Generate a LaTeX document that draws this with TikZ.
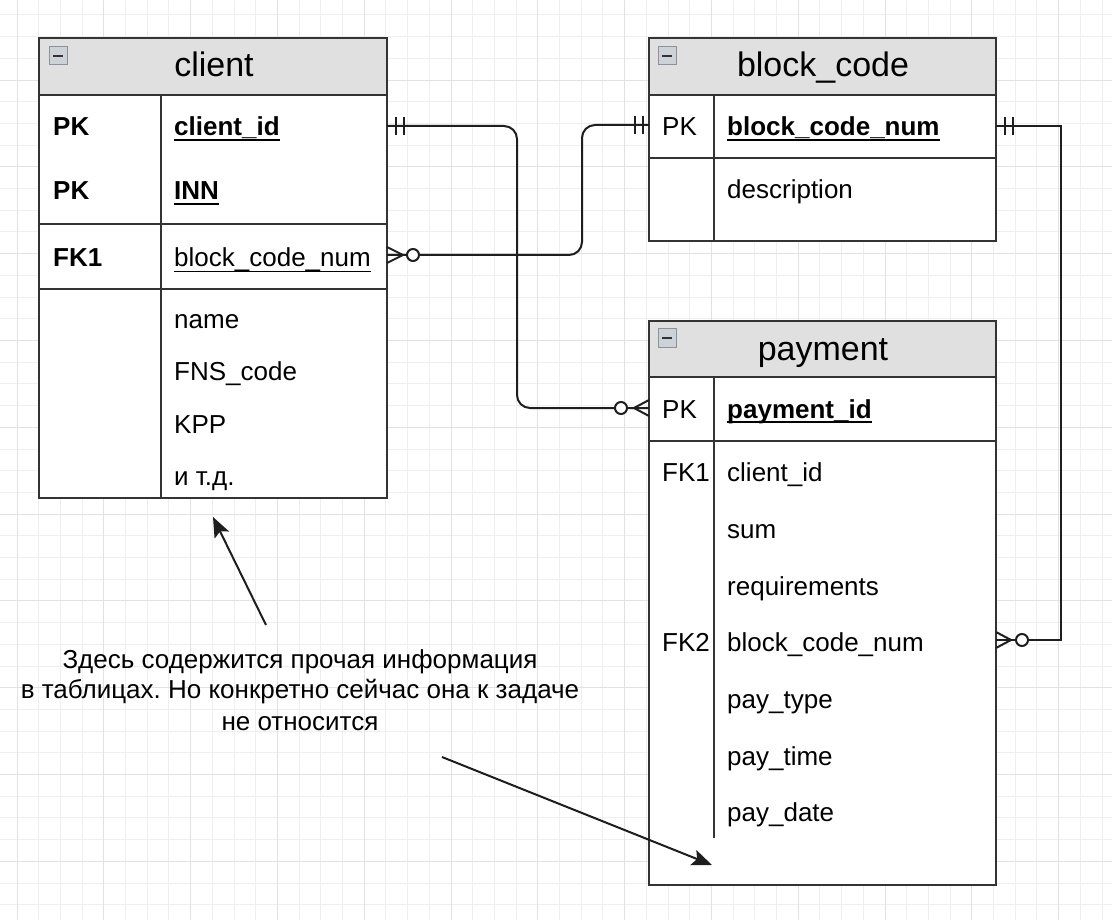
\documentclass[tikz,border=0pt]{standalone}
\usepackage{fontspec}
\setmainfont{Liberation Sans}
\usetikzlibrary{arrows.meta}
\definecolor{tblline}{HTML}{333333}
\definecolor{hdrgray}{HTML}{E0E0E0}
\definecolor{gridminor}{HTML}{EFEFEF}
\definecolor{gridmajor}{HTML}{E2E2E2}
\definecolor{connc}{HTML}{1E1E1E}
\definecolor{iconfill}{HTML}{CDD1D8}
\definecolor{iconedge}{HTML}{8C919A}
\frenchspacing
\newcommand\myul[2]{\setbox0\hbox{#2}\rlap{\rule[-5pt]{\wd0}{#1}}\box0}
\newcommand\minusicon[2]{%
  \fill[iconfill, draw=iconedge, line width=1pt] (#1,#2) rectangle ++(18,18);
  \draw[tblline, line width=2pt] (#1+4,#2+9) -- ++(10,0);}
\begin{document}
\begin{tikzpicture}[x=1pt,y=-1pt,
  tbl/.style={draw=tblline, line width=2pt},
  fld/.style={anchor=base west, inner sep=0pt, font=\fontsize{26}{30}\selectfont, text=black},
  hdrtxt/.style={anchor=base, inner sep=0pt, font=\fontsize{34}{40}\selectfont, text=black},
  notetxt/.style={anchor=base, inner sep=0pt, font=\fontsize{26}{30}\selectfont, text=black},
  conn/.style={draw=connc, line width=2pt},
  ermark/.style={draw=connc, line width=2pt},
  notearrow/.style={draw=connc, line width=2pt, -{Stealth[length=20pt,width=16pt,inset=4pt]}}
]
\useasboundingbox (0,0) rectangle (1112,920);
\fill[white] (0,0) rectangle (1112,920);
% grid
\foreach \k in {0,...,50} {\draw[gridminor, line width=1pt] (17+\k*21.7,0) -- (17+\k*21.7,920);}
\foreach \k in {0,...,41} {\draw[gridminor, line width=1pt] (0,15+\k*21.7) -- (1112,15+\k*21.7);}
\foreach \k in {0,...,12} {\draw[gridmajor, line width=1pt] (17+\k*86.8,0) -- (17+\k*86.8,920);}
\foreach \k in {0,...,9} {\draw[gridmajor, line width=1pt] (0,80.1+\k*86.8) -- (1112,80.1+\k*86.8);}

% ---------- client table ----------
\fill[hdrgray] (39,38) rectangle (387,95);
\fill[white] (39,95) rectangle (387,498);
\draw[tbl] (39,38) rectangle (387,498);
\draw[tbl] (39,95) -- (387,95);
\draw[tbl] (39,224) -- (387,224);
\draw[tbl] (39,289) -- (387,289);
\draw[tbl] (161,95) -- (161,498);
\minusicon{49}{47}
\node[hdrtxt] (client-title) at (214,77) {client};
\node[fld] (c-k1) at (53,136) {\bfseries PK};
\node[fld] (c-f1) at (174,136) {\bfseries\myul{2pt}{client\_id}};
\node[fld] (c-k2) at (53,200) {\bfseries PK};
\node[fld] (c-f2) at (174,200) {\bfseries\myul{2pt}{INN}};
\node[fld] (c-k3) at (53,267) {\bfseries FK1};
\node[fld] (c-f3) at (174,267) {\myul{1.4pt}{block\_code\_num}};
\node[fld] (c-f4) at (174,329) {name};
\node[fld] (c-f5) at (174,381) {FNS\_code};
\node[fld] (c-f6) at (174,433) {KPP};
\node[fld] (c-f7) at (174,485) {и т.д.};

% ---------- block_code table ----------
\fill[hdrgray] (649,38) rectangle (996,95);
\fill[white] (649,95) rectangle (996,241);
\draw[tbl] (649,38) rectangle (996,241);
\draw[tbl] (649,95) -- (996,95);
\draw[tbl] (649,158) -- (996,158);
\draw[tbl] (714,95) -- (714,241);
\minusicon{658}{47}
\node[hdrtxt] (block-title) at (823,77) {block\_code};
\node[fld] (b-k1) at (662,136) {PK};
\node[fld] (b-f1) at (727,136) {\bfseries\myul{2pt}{block\_code\_num}};
\node[fld] (b-f2) at (727,199) {description};

% ---------- payment table ----------
\fill[hdrgray] (649,321) rectangle (996,377);
\fill[white] (649,377) rectangle (996,885);
\draw[tbl] (649,321) rectangle (996,885);
\draw[tbl] (649,377) -- (996,377);
\draw[tbl] (649,441) -- (996,441);
\draw[tbl] (714,377) -- (714,838);
\minusicon{658}{329}
\node[hdrtxt] (pay-title) at (823,360) {payment};
\node[fld] (p-k1) at (662,418) {PK};
\node[fld] (p-f1) at (727,418) {\bfseries\myul{2pt}{payment\_id}};
\node[fld] (p-k2) at (662,481) {FK1};
\node[fld] (p-f2) at (727,481) {client\_id};
\node[fld] (p-f3) at (727,538) {sum};
\node[fld] (p-f4) at (727,595) {requirements};
\node[fld] (p-k5) at (662,651) {FK2};
\node[fld] (p-f5) at (727,651) {block\_code\_num};
\node[fld] (p-f6) at (727,708) {pay\_type};
\node[fld] (p-f7) at (727,765) {pay\_time};
\node[fld] (p-f8) at (727,821) {pay\_date};

% ---------- connector anchors ----------
\coordinate (cid-e) at (387,126);
\coordinate (cbn-e) at (387,255);
\coordinate (bcn-w) at (649,125);
\coordinate (bcn-e) at (996,126);
\coordinate (pid-w) at (649,408);
\coordinate (pbn-e) at (996,640);

% client.client_id -> payment (one to zero-or-many)
\draw[conn, rounded corners=13pt] (cid-e) -- (517,126) -- (517,408) -- (pid-w);
\draw[ermark] (396,117) -- (396,135) (404,117) -- (404,135);
\draw[ermark] (649,400) -- (634,408) -- (649,416);
\draw[ermark, fill=white] (621,408) circle[radius=6pt];

% client.block_code_num -> block_code (zero-or-many to one)
\draw[conn, rounded corners=13pt] (cbn-e) -- (582,255) -- (582,125) -- (bcn-w);
\draw[ermark] (387,247) -- (403,255) -- (387,263);
\draw[ermark, fill=white] (413,255) circle[radius=6pt];
\draw[ermark] (635,116) -- (635,134) (643,116) -- (643,134);

% block_code -> payment.block_code_num
\draw[conn] (bcn-e) -- (1061,126) -- (1061,640) -- (pbn-e);
\draw[ermark] (1005,117) -- (1005,135) (1013,117) -- (1013,135);
\draw[ermark] (996,632) -- (1011,640) -- (996,648);
\draw[ermark, fill=white] (1022,640) circle[radius=6pt];

% ---------- note ----------
\node[notetxt] (note1) at (300,668) {Здесь содержится прочая информация};
\node[notetxt] (note2) at (300,698) {в таблицах. Но конкретно сейчас она к задаче};
\node[notetxt] (note3) at (300,730) {не относится};
\coordinate (a1s) at (266,625);
\coordinate (a1e) at (213,517);
\coordinate (a2s) at (442,757);
\coordinate (a2e) at (712,865);
\draw[notearrow] (a1s) -- (a1e);
\draw[notearrow] (a2s) -- (a2e);
\end{tikzpicture}
\end{document}
